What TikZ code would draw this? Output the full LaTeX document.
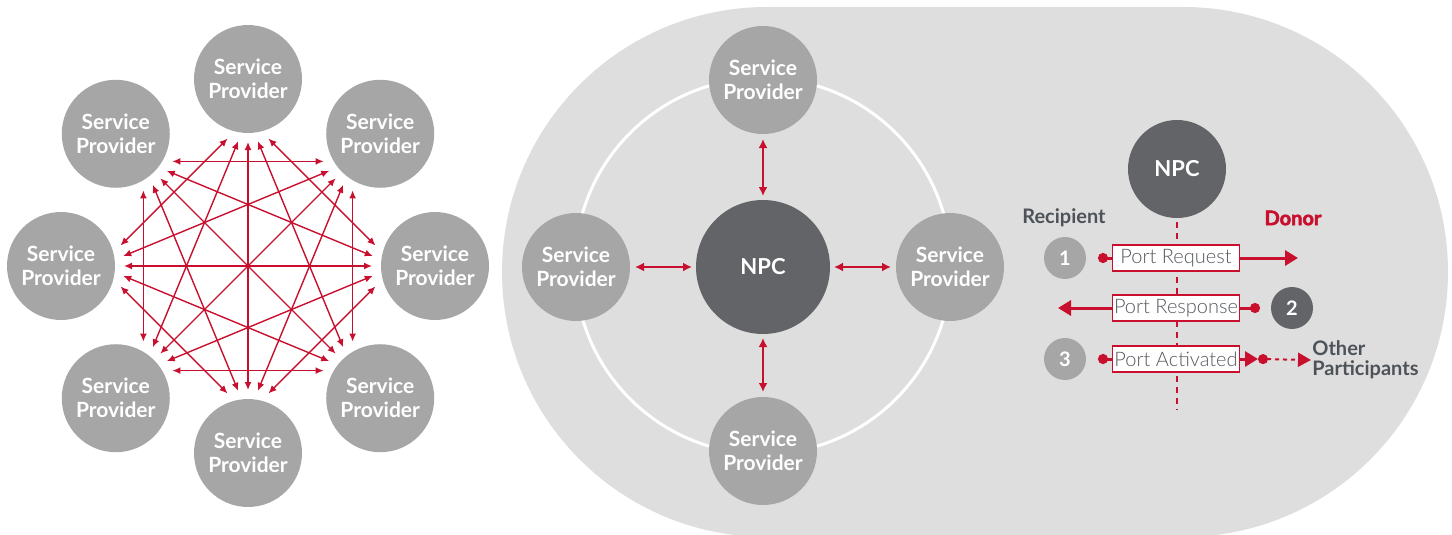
\documentclass[tikz,border=0pt]{standalone}
\usepackage{fontspec}
\setmainfont{Lato}
\IfFontExistsTF{Lato Light}{\newfontfamily\portfont{Lato Light}}{\newfontfamily\portfont{Lato}}
\newfontfamily\donorfont{Lato}[FakeBold=2.5]
\usetikzlibrary{arrows.meta}

\definecolor{npred}{RGB}{200,16,46}
\definecolor{spgray}{RGB}{166,166,166}
\definecolor{npcgray}{RGB}{99,100,104}
\definecolor{bggray}{RGB}{222,222,222}
\definecolor{txtdark}{RGB}{77,83,89}
\definecolor{txtgray}{RGB}{85,89,94}

\tikzset{every picture/.style={line width=0.75pt}}

\begin{document}
\begin{tikzpicture}[x=1pt,y=1pt,yscale=-1,xscale=1,
  sp/.style={circle,fill=spgray,minimum size=108pt,inner sep=0pt,outer sep=9pt,text=white,align=center,font=\fontsize{21}{24}\selectfont\bfseries},
  msp/.style={sp,outer sep=5pt},
  npc/.style={circle,fill=npcgray,inner sep=0pt,outer sep=4pt,text=white,font=\fontsize{22}{24}\selectfont\bfseries},
  num/.style={circle,fill=#1,minimum size=42pt,inner sep=0pt,text=white,font=\fontsize{20}{20}\selectfont\bfseries},
  mesh/.style={npred,line width=1.4pt,{Latex[length=8pt,width=7pt]}-{Latex[length=8pt,width=7pt]}},
  hub/.style={npred,line width=1.8pt,{Latex[length=9pt,width=9pt]}-{Latex[length=9pt,width=9pt]}},
  portbox/.style={draw=npred,line width=1.8pt,fill=white,minimum width=127pt,minimum height=26pt,inner sep=0pt,text=txtgray,font=\portfont\fontsize{20}{20}\selectfont},
  bigarrow/.style={npred,line width=3pt,-{Triangle[length=13pt,width=15pt]}},
  dotline/.style={npred,line width=3pt},
  label/.style={text=txtdark,font=\fontsize{20}{20}\selectfont\bfseries,inner sep=1pt}]
\useasboundingbox (0,0) rectangle (1452,535);

%Shape: background pill
\fill[bggray,rounded corners=265pt] (502,7) rectangle (1448,537);
%Shape: white ring
\draw[white,line width=3pt] (763,266) circle (188);

% left mesh of service providers
\foreach \i in {0,...,7}{
  \pgfmathsetmacro{\a}{90-45*\i}
  \node[sp] (sp\i) at ({248+187*cos(\a)},{266-187*sin(\a)}) {Service\\Provider};
}
\foreach \i in {0,...,7}{
  \foreach \k/\d in {2/19,3/9}{
    \pgfmathtruncatemacro{\j}{mod(\i+\k,8)}
    \pgfmathtruncatemacro{\ai}{mod(270-45*\i+\d+720,360)}
    \pgfmathtruncatemacro{\aj}{mod(270-45*\j-\d+720,360)}
    \draw[mesh] (sp\i.\ai) -- (sp\j.\aj);
  }
}
\foreach \i in {0,...,3}{
  \pgfmathtruncatemacro{\j}{\i+4}
  \pgfmathtruncatemacro{\ai}{mod(270-45*\i+720,360)}
  \pgfmathtruncatemacro{\aj}{mod(270-45*\j+720,360)}
  \draw[mesh] (sp\i.\ai) -- (sp\j.\aj);
}

% hub with the NPC
\node[npc,minimum size=134pt] (hub) at (763,267) {NPC};
\node[msp] (mtop) at (763,80) {Service\\Provider};
\node[msp] (mleft) at (576,267) {Service\\Provider};
\node[msp] (mright) at (950,267) {Service\\Provider};
\node[msp] (mbot) at (763,451) {Service\\Provider};
\draw[hub] (mtop) -- (hub);
\draw[hub] (mbot) -- (hub);
\draw[hub] (mleft) -- (hub);
\draw[hub] (mright) -- (hub);

% porting sequence
\node[npc,minimum size=98pt] (npc2) at (1177,169) {NPC};
\coordinate (dashend) at (1177,410);
\draw[npred,line width=2.5pt,dash pattern=on 6pt off 5pt] (npc2.south) -- (dashend);

% Text Node
\node[label] (recip) at (1064,218) {Recipient};
% Text Node
\node[inner sep=1pt,text=npred,font=\donorfont\bfseries\fontsize{20}{20}\selectfont] (donor) at (1293,218) {Donor};

\node[num=spgray] (n1) at (1065,258) {1};
\node[num=npcgray] (n2) at (1292,308) {2};
\node[num=spgray] (n3) at (1065,359) {3};

\node[portbox] (req) at (1176,258) {Port Request};
\node[portbox] (resp) at (1176,308) {Port Response};
\node[portbox] (act) at (1176,359) {Port Activated};
% Text Node
\node[label,anchor=west,align=left] (oth) at (1311,360) {Other\\Participants};

\coordinate (d1) at (1098,258);
\coordinate (t1) at (1298,258);
\draw[dotline,{Circle[length=10pt]}-] (d1) -- (req.west);
\draw[bigarrow] (req.east) -- (t1);

\coordinate (t2) at (1058,308);
\coordinate (d2) at (1260,308);
\draw[bigarrow] (resp.west) -- (t2);
\draw[dotline,-{Circle[length=10pt]}] (resp.east) -- (d2);

\coordinate (d3) at (1098,359);
\coordinate (t3) at (1258,359);
\draw[dotline,{Circle[length=10pt]}-] (d3) -- (act.west);
\draw[bigarrow] (act.east) -- (t3);
\draw[npred,line width=2pt,dash pattern=on 4pt off 4pt,{Circle[length=10pt]}-{Triangle[length=13pt,width=14pt]}] (t3) -- (oth.west);

\end{tikzpicture}
\end{document}
